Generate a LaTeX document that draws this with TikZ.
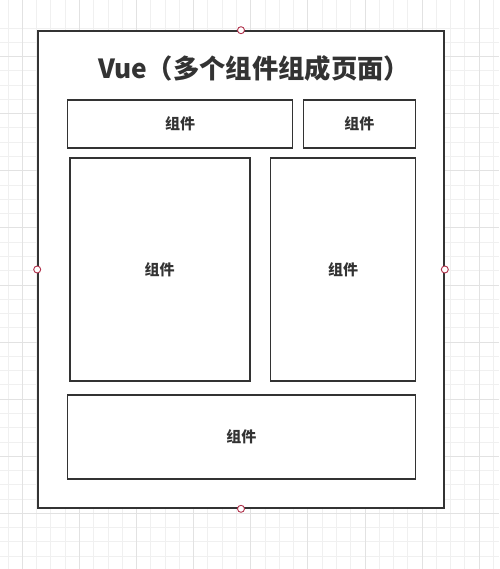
\documentclass[tikz,border=0pt]{standalone}
\usepackage{fontspec}
\newfontfamily\cjk{Noto Sans CJK SC}
\definecolor{gridminor}{HTML}{F0F0F0}
\definecolor{gridmajor}{HTML}{E2E2E2}
\definecolor{ink}{HTML}{333333}
\definecolor{handle}{HTML}{B0304A}
\tikzset{
  box/.style={draw=ink, line width=1.6pt, fill=white, rectangle, inner sep=0pt,
              font=\cjk\bfseries\fontsize{15}{18}\selectfont, text=ink},
  handlept/.style={circle, draw=handle, fill=white, line width=0.9pt,
                   minimum size=7pt, inner sep=0pt},
}
\begin{document}
\begin{tikzpicture}[x=1pt, y=-1pt]
  \useasboundingbox (0,0) rectangle (499,569);
  \fill[white] (0,0) rectangle (499,569);
  % background grid: fine lines, with every fourth one darker
  \foreach \i in {-2,...,35} {
    \pgfmathsetmacro{\gx}{22.3+14.275*\i}
    \pgfmathsetmacro{\gy}{56.5+14.275*\i}
    \draw[gridminor, line width=0.8pt] (\gx,0) -- (\gx,569);
    \draw[gridminor, line width=0.8pt] (0,\gy) -- (499,\gy);
  }
  \foreach \i in {-1,...,9} {
    \pgfmathsetmacro{\gx}{22.3+57.1*\i}
    \pgfmathsetmacro{\gy}{56.5+57.1*\i}
    \draw[gridmajor, line width=0.8pt] (\gx,0) -- (\gx,569);
    \draw[gridmajor, line width=0.8pt] (0,\gy) -- (499,\gy);
  }
  % page frame
  \node[box, minimum width=406pt, minimum height=477pt] (page) at (241,269.5) {};
  \node[font=\cjk\bfseries\fontsize{26.3}{31}\selectfont, text=ink] (title) at (254,68.5) {Vue（多个组件组成页面）};
  % components
  \node[box, minimum width=225pt, minimum height=48pt] (header) at (180,123.8) {组件};
  \node[box, minimum width=112pt, minimum height=48pt] (corner) at (359.3,123.8) {组件};
  \node[box, minimum width=180pt, minimum height=223pt] (left) at (159.7,269.7) {组件};
  \node[box, minimum width=145pt, minimum height=223pt] (right) at (343,269.7) {组件};
  \node[box, minimum width=348pt, minimum height=84pt] (footer) at (241.3,437) {组件};
  % selection handles on the frame
  \node[handlept] (hn) at (page.north) {};
  \node[handlept] (hs) at (page.south) {};
  \node[handlept] (hw) at (page.west) {};
  \node[handlept] (he) at (page.east) {};
\end{tikzpicture}
\end{document}
